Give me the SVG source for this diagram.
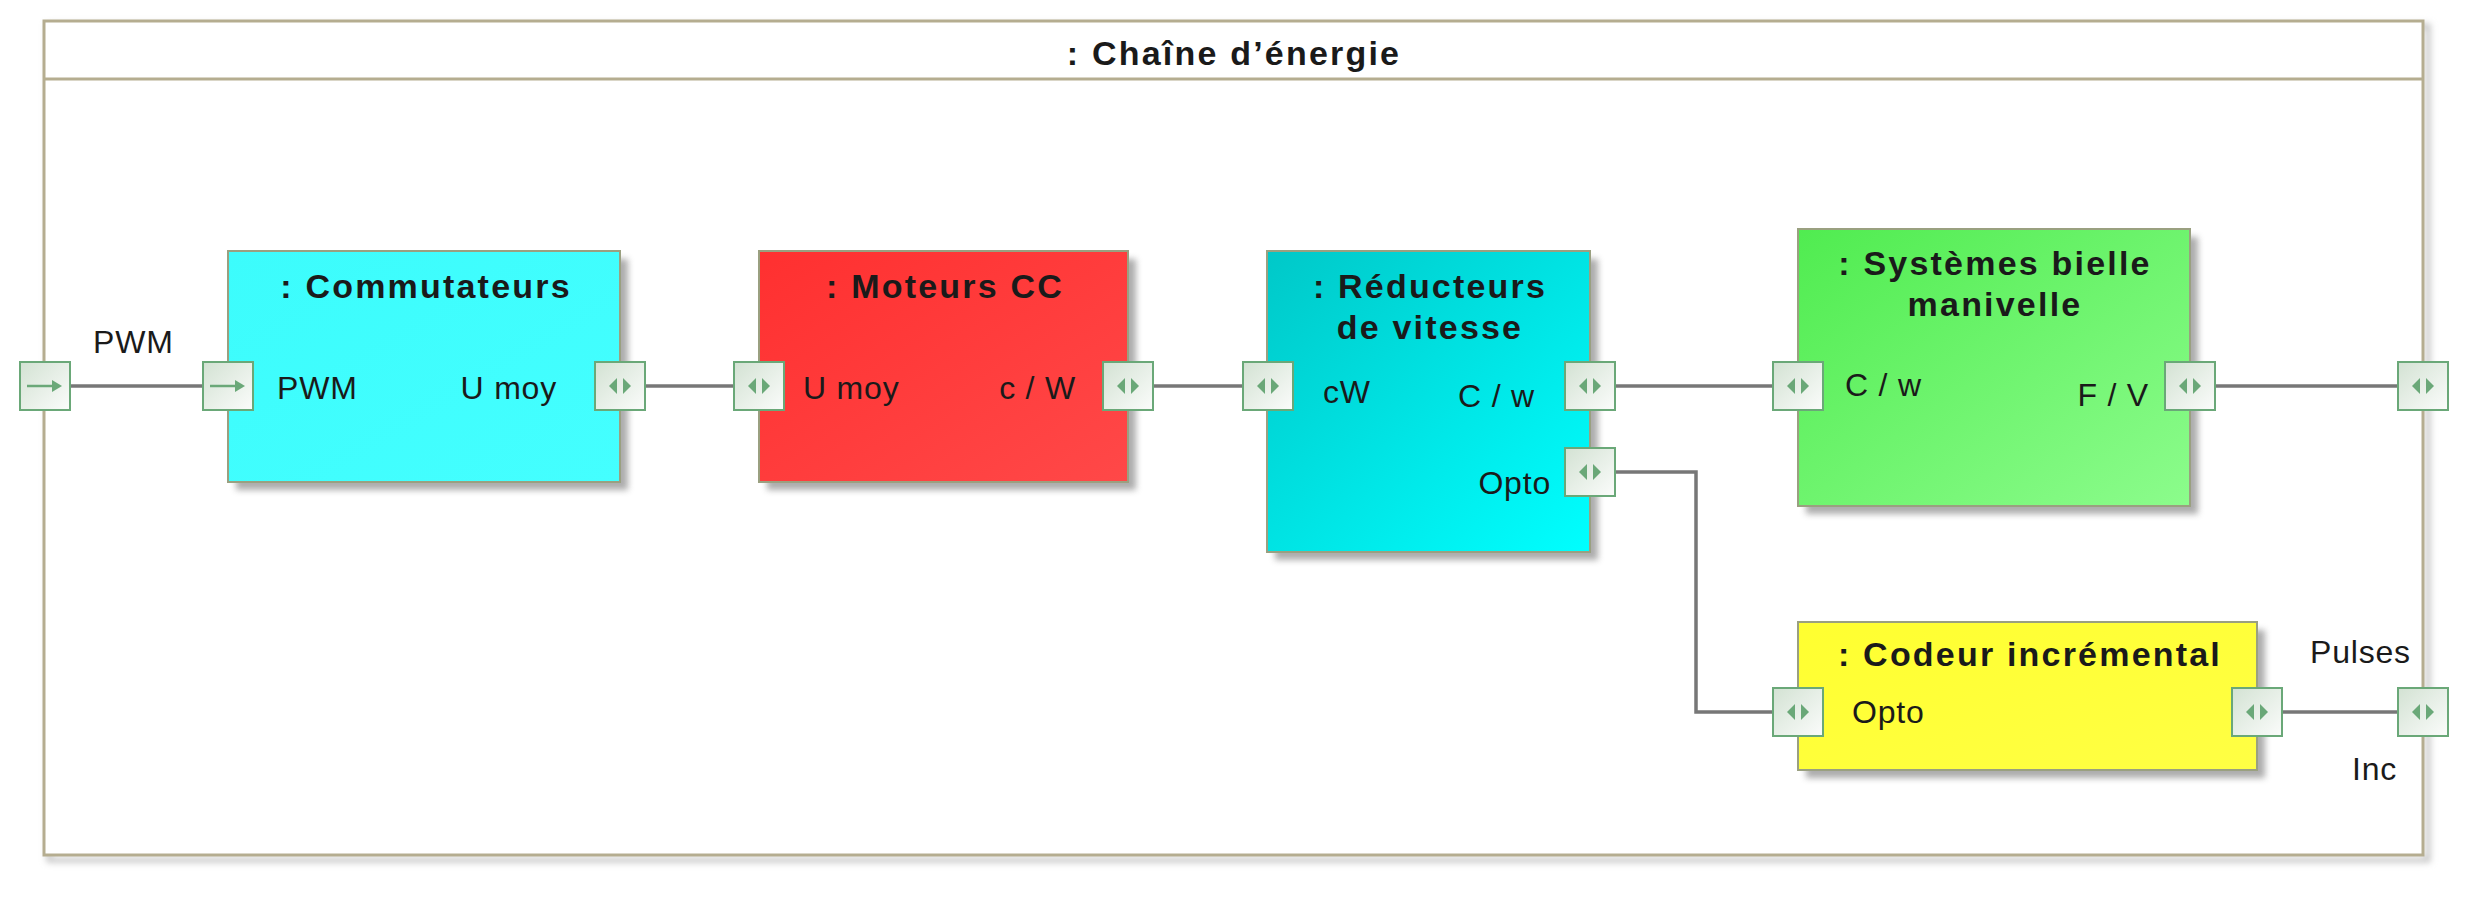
<svg xmlns="http://www.w3.org/2000/svg" width="2480" height="912" viewBox="0 0 2480 912">
<style>
text{font-family:"Liberation Sans",Arial,sans-serif;fill:#1a1a1a}
.t{font-size:34px;font-weight:bold;letter-spacing:2.2px}
.l{font-size:32px;letter-spacing:0.8px}
.box{stroke:#9aa080;stroke-width:2}
.conn{stroke:#777;stroke-width:3.5;fill:none}
</style>
<defs>
<filter id="blur" x="-10%" y="-10%" width="120%" height="120%"><feGaussianBlur stdDeviation="3"/></filter>
<linearGradient id="pg" x1="0" y1="0" x2="1" y2="1"><stop offset="0" stop-color="#d3e2d3"/><stop offset="1" stop-color="#fbfcfb"/></linearGradient>
<linearGradient id="gCom" x1="0" y1="0" x2="1" y2="1"><stop offset="0" stop-color="#3cfcfc"/><stop offset="1" stop-color="#44ffff"/></linearGradient>
<linearGradient id="gMot" x1="0" y1="0" x2="1" y2="1"><stop offset="0" stop-color="#ff3030"/><stop offset="1" stop-color="#ff4848"/></linearGradient>
<linearGradient id="gRed" x1="0" y1="0" x2="1" y2="1"><stop offset="0" stop-color="#00c8c8"/><stop offset="1" stop-color="#00ffff"/></linearGradient>
<linearGradient id="gSys" x1="0" y1="0" x2="1" y2="1"><stop offset="0" stop-color="#50ec50"/><stop offset="1" stop-color="#8cfc8c"/></linearGradient>
<linearGradient id="gCod" x1="0" y1="0" x2="1" y2="1"><stop offset="0" stop-color="#ffff30"/><stop offset="1" stop-color="#ffff44"/></linearGradient>
<g id="portBi">
<rect x="-25" y="-24" width="50" height="48" fill="url(#pg)" stroke="#6aa878" stroke-width="2"/>
<polygon points="-3,-8 -11,0 -3,8" fill="#6aa878"/>
<polygon points="3,-8 11,0 3,8" fill="#6aa878"/>
</g>
<g id="portIn">
<rect x="-25" y="-24" width="50" height="48" fill="url(#pg)" stroke="#6aa878" stroke-width="2"/>
<line x1="-18" y1="0" x2="9" y2="0" stroke="#6aa878" stroke-width="2.5"/>
<polygon points="7,-6 17,0 7,6" fill="#6aa878"/>
</g>
</defs>
<rect width="2480" height="912" fill="#ffffff"/>

<g id="frame">
<rect x="49" y="26" width="2379" height="834" fill="none" stroke="#c4c4c4" stroke-width="5" filter="url(#blur)"/>
<rect x="44" y="21" width="2379" height="834" fill="#ffffff" stroke="#b5ad90" stroke-width="3"/>
<line x1="44" y1="79" x2="2423" y2="79" stroke="#b5ad90" stroke-width="3"/>
<text class="t" x="1234" y="65" text-anchor="middle">: Chaîne d’énergie</text>
</g>

<g id="connectors">
<line class="conn" x1="70" y1="386" x2="203" y2="386"/>
<line class="conn" x1="645" y1="386" x2="734" y2="386"/>
<line class="conn" x1="1153" y1="386" x2="1243" y2="386"/>
<line class="conn" x1="1615" y1="386" x2="1773" y2="386"/>
<line class="conn" x1="2215" y1="386" x2="2398" y2="386"/>
<polyline class="conn" points="1615,472 1696,472 1696,712 1773,712"/>
<line class="conn" x1="2282" y1="712" x2="2398" y2="712"/>
</g>

<g id="commutateurs">
<rect x="236" y="259" width="392" height="231" fill="#8a8a8a" opacity="0.7" filter="url(#blur)"/>
<rect class="box" x="228" y="251" width="392" height="231" fill="url(#gCom)"/>
<text class="t" x="426" y="298" text-anchor="middle">: Commutateurs</text>
<text class="l" x="277" y="399">PWM</text>
<text class="l" x="557" y="399" text-anchor="end">U moy</text>
</g>

<g id="moteurs">
<rect x="767" y="259" width="369" height="231" fill="#8a8a8a" opacity="0.7" filter="url(#blur)"/>
<rect class="box" x="759" y="251" width="369" height="231" fill="url(#gMot)"/>
<text class="t" x="945" y="298" text-anchor="middle">: Moteurs CC</text>
<text class="l" x="803" y="399">U moy</text>
<text class="l" x="1076" y="399" text-anchor="end">c / W</text>
</g>

<g id="reducteurs">
<rect x="1275" y="259" width="323" height="301" fill="#8a8a8a" opacity="0.7" filter="url(#blur)"/>
<rect class="box" x="1267" y="251" width="323" height="301" fill="url(#gRed)"/>
<text class="t" x="1430" y="298" text-anchor="middle">: Réducteurs</text>
<text class="t" x="1430" y="339" text-anchor="middle">de vitesse</text>
<text class="l" x="1323" y="403">cW</text>
<text class="l" x="1535" y="407" text-anchor="end">C / w</text>
<text class="l" x="1551" y="494" text-anchor="end">Opto</text>
</g>

<g id="systemes">
<rect x="1806" y="237" width="392" height="277" fill="#8a8a8a" opacity="0.7" filter="url(#blur)"/>
<rect class="box" x="1798" y="229" width="392" height="277" fill="url(#gSys)"/>
<text class="t" x="1995" y="275" text-anchor="middle">: Systèmes bielle</text>
<text class="t" x="1995" y="316" text-anchor="middle">manivelle</text>
<text class="l" x="1845" y="396">C / w</text>
<text class="l" x="2149" y="406" text-anchor="end">F / V</text>
</g>

<g id="codeur">
<rect x="1806" y="630" width="459" height="148" fill="#8a8a8a" opacity="0.7" filter="url(#blur)"/>
<rect class="box" x="1798" y="622" width="459" height="148" fill="url(#gCod)"/>
<text class="t" x="2030" y="666" text-anchor="middle">: Codeur incrémental</text>
<text class="l" x="1852" y="723">Opto</text>
</g>

<g id="ports">
<use href="#portIn" x="45" y="386"/>
<use href="#portIn" x="228" y="386"/>
<use href="#portBi" x="620" y="386"/>
<use href="#portBi" x="759" y="386"/>
<use href="#portBi" x="1128" y="386"/>
<use href="#portBi" x="1268" y="386"/>
<use href="#portBi" x="1590" y="386"/>
<use href="#portBi" x="1590" y="472"/>
<use href="#portBi" x="1798" y="386"/>
<use href="#portBi" x="2190" y="386"/>
<use href="#portBi" x="2423" y="386"/>
<use href="#portBi" x="1798" y="712"/>
<use href="#portBi" x="2257" y="712"/>
<use href="#portBi" x="2423" y="712"/>
</g>

<g id="frame-labels">
<text class="l" x="93" y="353">PWM</text>
<text class="l" x="2310" y="663">Pulses</text>
<text class="l" x="2352" y="780">Inc</text>
</g>
</svg>
